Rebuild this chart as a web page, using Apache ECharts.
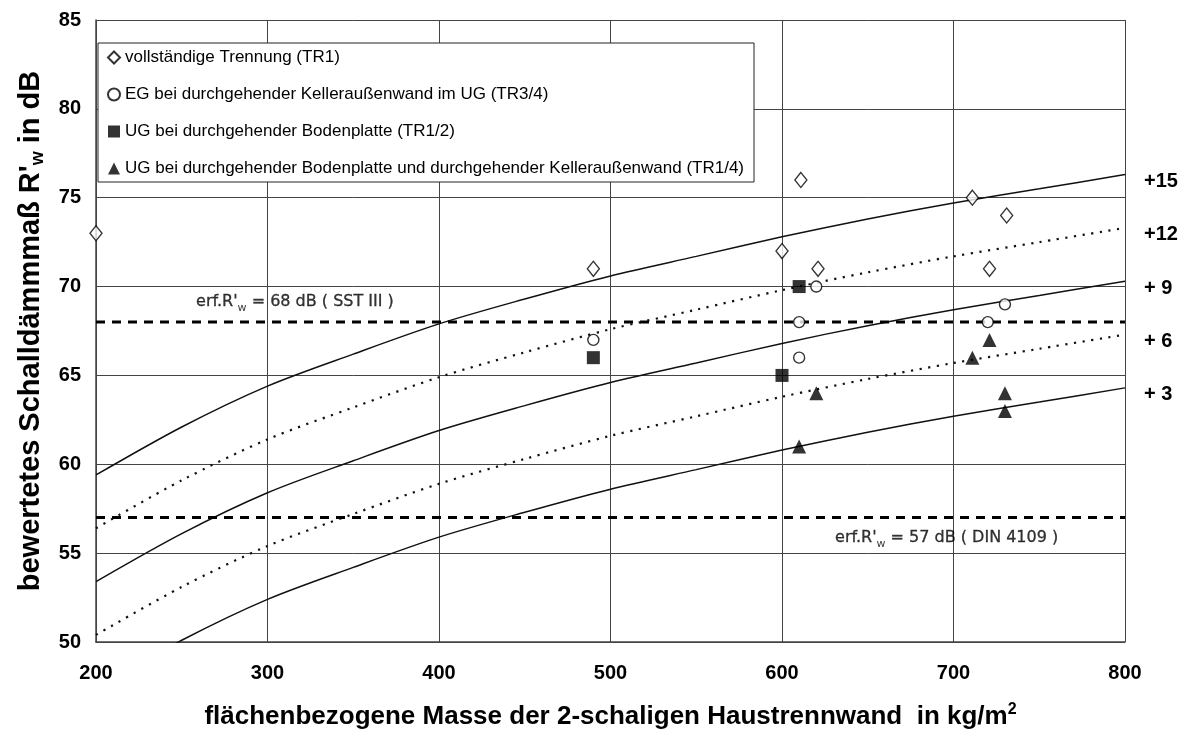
<!DOCTYPE html>
<html>
<head>
<meta charset="utf-8">
<script src="https://cdn.jsdelivr.net/npm/echarts@6/dist/echarts.min.js"></script>
<style>
html,body{margin:0;padding:0;background:#fff;}
#chart{width:1183px;height:735px;}
</style>
</head>
<body>
<div id="chart"></div>
<script>
// ---- data ----
const curveMass = [200, 250, 300, 350, 400, 450, 500, 550, 600, 650, 700, 750, 800];
const curvePlus3  = [47.4, 50.1, 52.4, 54.2, 55.9, 57.3, 58.6, 59.7, 60.8, 61.8, 62.7, 63.5, 64.3];
const curvePlus6  = [50.4, 53.1, 55.4, 57.2, 58.9, 60.3, 61.6, 62.7, 63.8, 64.8, 65.7, 66.5, 67.3];
const curvePlus9  = [53.4, 56.1, 58.4, 60.2, 61.9, 63.3, 64.6, 65.7, 66.8, 67.8, 68.7, 69.5, 70.3];
const curvePlus12 = [56.4, 59.1, 61.4, 63.2, 64.9, 66.3, 67.6, 68.7, 69.8, 70.8, 71.7, 72.5, 73.3];
const curvePlus15 = [59.4, 62.1, 64.4, 66.2, 67.9, 69.3, 70.6, 71.7, 72.8, 73.8, 74.7, 75.5, 76.3];
const curveLabels = ['+ 3', '+ 6', '+ 9', '+12', '+15'];

const tr1Mass  = [200, 490, 600, 611, 621, 711, 721, 731];
const tr1Rw    = [73, 71, 72, 76, 71, 75, 71, 74];
const tr34Mass = [490, 610, 610, 620, 720, 730];
const tr34Rw   = [67, 68, 66, 70, 68, 69];
const tr12Mass = [490, 600, 610];
const tr12Rw   = [66, 65, 70];
const tr14Mass = [610, 620, 711, 721, 730, 730];
const tr14Rw   = [61, 64, 66, 67, 64, 63];

const seriesNames = [
  'vollständige Trennung (TR1)',
  'EG bei durchgehender Kelleraußenwand im UG (TR3/4)',
  'UG bei durchgehender Bodenplatte (TR1/2)',
  'UG bei durchgehender Bodenplatte und durchgehender Kelleraußenwand (TR1/4)'
];

const reqLevels = [68, 57];
const reqMassRange = [200, 800];
const reqLabelPos = [[316, 69.15], [696, 55.85]];
const reqLabelText = [' = 68 dB ( SST III )', ' = 57 dB ( DIN 4109 )'];

const xTicks = {min: 200, max: 800, interval: 100};
const yTicks = {min: 50, max: 85, interval: 5};

// ---- chart ----
const BOLDF = "'Liberation Sans', Arial, sans-serif";
const SANS = "'Liberation Sans', Arial, sans-serif";
const zip = (a, b) => a.map((v, i) => [v, b[i]]);

const curveSets = [curvePlus3, curvePlus6, curvePlus9, curvePlus12, curvePlus15];
const curveDotted = [false, true, false, true, false];

const series = [];
curveSets.forEach((vals, i) => {
  series.push({
    name: 'curve' + curveLabels[i],
    type: 'line',
    data: zip(curveMass, vals),
    smooth: 0.3,
    symbol: 'none',
    clip: true,
    silent: true,
    z: 3,
    lineStyle: curveDotted[i]
      ? {color: '#111', width: 2.2, type: [2.2, 6.5]}
      : {color: '#111', width: 1.5, type: 'solid'},
    endLabel: {
      show: true,
      formatter: curveLabels[i],
      color: '#000',
      fontFamily: BOLDF,
      fontWeight: 'bold',
      fontSize: 20,
      distance: 16,
      offset: [3, 7]
    }
  });
});

reqLevels.forEach((lvl, i) => {
  series.push({
    name: 'req' + lvl,
    type: 'line',
    data: reqMassRange.map(m => [m, lvl]),
    symbol: 'none',
    silent: true,
    z: 3,
    lineStyle: {color: '#000', width: 3, type: [9, 7]}
  });
  series.push({
    name: 'reqLabel' + lvl,
    type: 'scatter',
    data: [reqLabelPos[i]],
    symbolSize: 0.1,
    silent: true,
    z: 4,
    label: {
      show: true,
      position: 'inside',
      formatter: '{a|erf.R\'}{s|w}{a|' + reqLabelText[i] + '}',
      rich: {
        a: {fontFamily: "'DejaVu Sans', sans-serif", fontSize: 16, color: '#000', lineHeight: 24, textBorderColor: '#000', textBorderWidth: 0.3},
        s: {fontFamily: "'DejaVu Sans', sans-serif", fontSize: 11, color: '#000', lineHeight: 14, verticalAlign: 'bottom'}
      }
    }
  });
});

const markerDefs = [
  {mass: tr1Mass, rw: tr1Rw, symbol: 'diamond', size: [12, 15], style: {color: '#fff', borderColor: '#000', borderWidth: 1.4}},
  {mass: tr34Mass, rw: tr34Rw, symbol: 'circle', size: 11, style: {color: '#fff', borderColor: '#000', borderWidth: 1.4}},
  {mass: tr12Mass, rw: tr12Rw, symbol: 'rect', size: 13, style: {color: '#000', borderColor: '#000', borderWidth: 0}},
  {mass: tr14Mass, rw: tr14Rw, symbol: 'triangle', size: 14, style: {color: '#000', borderColor: '#000', borderWidth: 0}}
];
markerDefs.forEach((d, i) => {
  series.push({
    name: seriesNames[i],
    type: 'scatter',
    data: zip(d.mass, d.rw),
    symbol: d.symbol,
    symbolSize: d.size,
    itemStyle: d.style,
    z: 5
  });
});

const chart = echarts.init(document.getElementById('chart'), null, {renderer: 'canvas'});
chart.setOption({
  animation: false,
  backgroundColor: '#fff',
  grid: {left: 96, right: 58, top: 20, bottom: 90, containLabel: false},
  legend: {
    data: seriesNames,
    orient: 'vertical',
    left: 98,
    top: 43,
    padding: [6, 10, 5, 9],
    itemGap: 20,
    itemWidth: 12,
    itemHeight: 12,
    backgroundColor: '#fff',
    borderColor: '#222',
    borderWidth: 1,
    selectedMode: false,
    textStyle: {fontFamily: SANS, fontSize: 17, color: '#000'},
    z: 10
  },
  xAxis: {
    type: 'value',
    min: xTicks.min, max: xTicks.max, interval: xTicks.interval,
    axisLine: {show: true, lineStyle: {color: '#444', width: 1.5}},
    axisTick: {show: false},
    splitLine: {show: true, lineStyle: {color: '#444', width: 1}},
    axisLabel: {color: '#000', fontFamily: BOLDF, fontWeight: 'bold', fontSize: 20, margin: 21},
    name: '{t|flächenbezogene Masse der 2-schaligen Haustrennwand  in kg/m}{p|2}',
    nameLocation: 'middle',
    nameGap: 60,
    nameTextStyle: {
      rich: {
        t: {fontFamily: BOLDF, fontWeight: 'bold', fontSize: 26, color: '#000', lineHeight: 30},
        p: {fontFamily: BOLDF, fontWeight: 'bold', fontSize: 16, color: '#000', lineHeight: 30, verticalAlign: 'top'}
      }
    }
  },
  yAxis: {
    type: 'value',
    min: yTicks.min, max: yTicks.max, interval: yTicks.interval,
    axisLine: {show: true, lineStyle: {color: '#444', width: 1.5}},
    axisTick: {show: false},
    splitLine: {show: true, lineStyle: {color: '#444', width: 1}},
    axisLabel: {color: '#000', fontFamily: BOLDF, fontWeight: 'bold', fontSize: 20, margin: 15},
    name: '{t|bewertetes Schalldämmmaß R\'}{s|w}{t| in dB}',
    nameLocation: 'middle',
    nameRotate: 90,
    nameGap: 49,
    nameTextStyle: {
      rich: {
        t: {fontFamily: BOLDF, fontWeight: 'bold', fontSize: 29, color: '#000', lineHeight: 32},
        s: {fontFamily: BOLDF, fontWeight: 'bold', fontSize: 18, color: '#000', lineHeight: 22, verticalAlign: 'bottom'}
      }
    }
  },
  series: series
});
</script>
</body>
</html>
